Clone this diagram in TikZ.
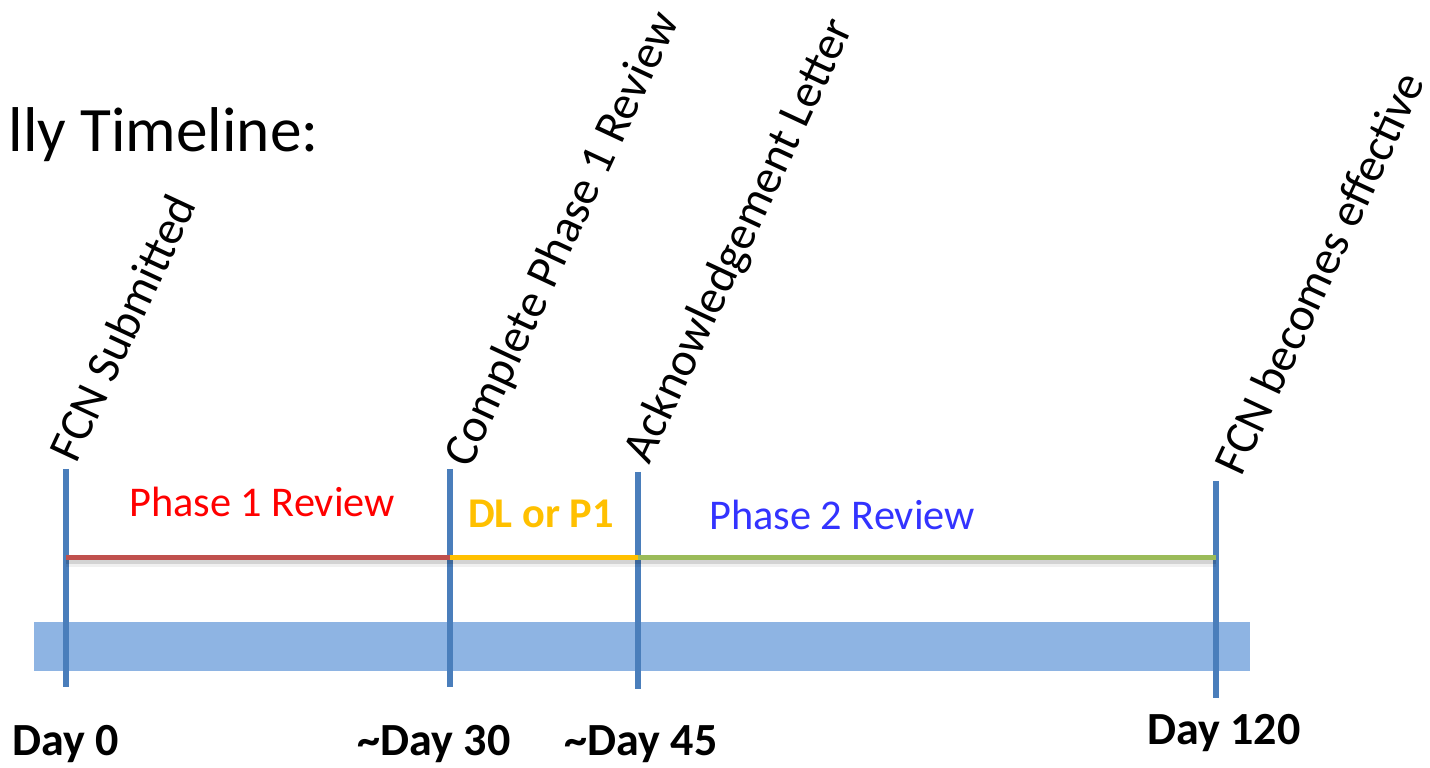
\documentclass[tikz,border=0pt]{standalone}
\usepackage{fontspec}
\setmainfont{Carlito}
\definecolor{tickblue}{HTML}{4A7EBB}
\definecolor{bandblue}{HTML}{8EB4E3}
\definecolor{segred}{HTML}{C0504D}
\definecolor{segyellow}{HTML}{FFC000}
\definecolor{seggreen}{HTML}{9BBB59}
\definecolor{txtred}{HTML}{FF0000}
\definecolor{txtblue}{HTML}{3333FF}
\tikzset{
  tick/.style={draw=tickblue, line width=0.6mm},
  seg/.style={line width=0.5mm},
  segshadow/.style={draw=black, line width=0.6mm, opacity=0.12},
  event/.style={anchor=base west, rotate=65, inner sep=0pt, font=\fontsize{13.5pt}{16pt}\selectfont},
  phase/.style={anchor=base, inner sep=0pt, font=\fontsize{12.05pt}{14pt}\selectfont},
  daylbl/.style={anchor=base, inner sep=0pt, font=\fontsize{13.1pt}{15pt}\selectfont\bfseries},
}
\begin{document}
\begin{tikzpicture}[x=0.1mm,y=-0.1mm]
\useasboundingbox (0,0) rectangle (1430,768);
% title
\node[anchor=base west, inner sep=0pt, font=\fontsize{18pt}{21pt}\selectfont] (title) at (8,152) {lly Timeline:};
% band
\fill[bandblue] (34,622) rectangle (1250,671);
% ticks
\coordinate (t0) at (66,469);   \coordinate (b0) at (66,687);
\coordinate (t30) at (450,469); \coordinate (b30) at (450,687);
\coordinate (t45) at (638,472); \coordinate (b45) at (638,689);
\coordinate (t120) at (1216,481); \coordinate (b120) at (1216,698);
\draw[tick] (t0) -- (b0);
\draw[tick] (t30) -- (b30);
\draw[tick] (t45) -- (b45);
\draw[tick] (t120) -- (b120);
% segments
\coordinate (h0) at (66,558);
\coordinate (h30) at (450,558);
\coordinate (h45) at (638,558);
\coordinate (h120) at (1216,558);
\draw[segshadow] ([yshift=-0.35mm]h0) -- ([yshift=-0.35mm]h120);
\draw[segshadow, line width=0.9mm, opacity=0.06] ([yshift=-0.45mm]h0) -- ([yshift=-0.45mm]h120);
\draw[seg, segred] (h0) -- (h30);
\draw[seg, segyellow] (h30) -- (h45);
\draw[seg, seggreen] (h45) -- (h120);
% phase labels
\node[phase, text=txtred] (p1) at (262,517) {Phase 1 Review};
\node[phase, text=segyellow, font=\fontsize{12.05pt}{14pt}\selectfont\bfseries] (dl) at (541,528) {DL or P1};
\node[phase, text=txtblue] (p2) at (842,530) {Phase 2 Review};
% event labels
\node[event] (e0) at (76,465) {FCN Submitted};
\node[event] (e30) at (470,470) {Complete Phase 1 Review};
\node[event] (e45) at (649,466) {Acknowledgement Letter};
\node[event] (e120) at (1241,478) {FCN becomes effective};
% day labels
\node[daylbl] (d0) at (66,756) {Day 0};
\node[daylbl] (d30) at (434,756) {\textasciitilde Day 30};
\node[daylbl] (d45) at (641,756) {\textasciitilde Day 45};
\node[daylbl] (d120) at (1224,745) {Day 120};
\end{tikzpicture}
\end{document}
